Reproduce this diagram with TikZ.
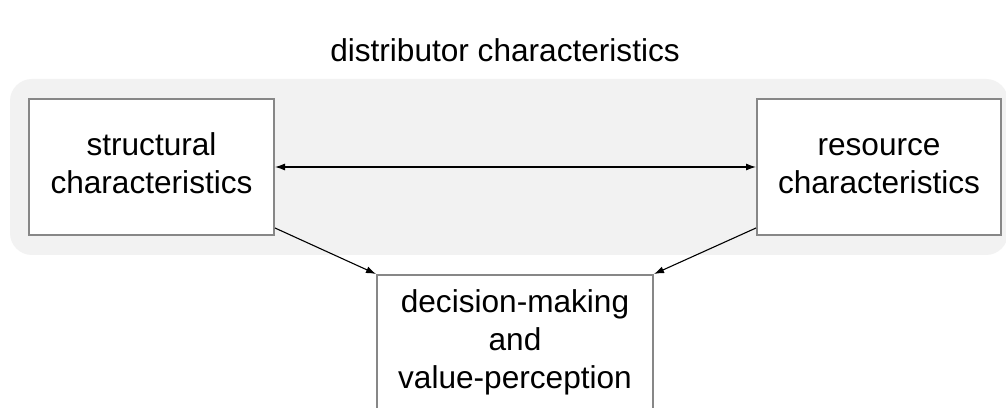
\documentclass[tikz,border=0pt]{standalone}
\usepackage{fontspec}
\setmainfont{Liberation Sans}
\usetikzlibrary{arrows.meta}
\begin{document}
\begin{tikzpicture}[x=1pt,y=1pt,
  box/.style={draw=black!47, line width=2pt, fill=white, align=center, inner sep=0pt,
    font=\fontsize{31.6}{38}\selectfont},
  tip/.style={Latex[length=10pt,width=7pt]},
  conn/.style={line width=1.1pt, -{Latex[length=10pt,width=7pt]}},
  group/.style={fill=black!5, rounded corners=22pt}]
\clip (0,0) rectangle (1006,407);
\fill[white] (0,0) rectangle (1006,407);
\node[font=\fontsize{31.6}{38}\selectfont] (title) at (505,357) {distributor characteristics};
\path[group] (10,152) rectangle (1008,328);
\node[box, minimum width=245pt, minimum height=136pt] (struct) at (151.5,240) {\strut structural\\characteristics\strut};
\node[box, minimum width=244pt, minimum height=136pt] (res) at (879,240) {\strut resource\\characteristics\strut};
\node[box, minimum width=276pt, minimum height=136pt] (dec) at (515,64) {\strut decision-making\\and\\value-perception\strut};
\draw[line width=1.1pt, {Latex[length=10pt,width=7pt]}-{Latex[length=10pt,width=7pt]}] (struct.east) -- (res.west);
\draw[conn] (struct.south east) ++(0,8) coordinate (s1) -- (dec.north west);
\draw[conn] (res.south west) ++(0,8) coordinate (r1) -- (dec.north east);
\end{tikzpicture}
\end{document}
